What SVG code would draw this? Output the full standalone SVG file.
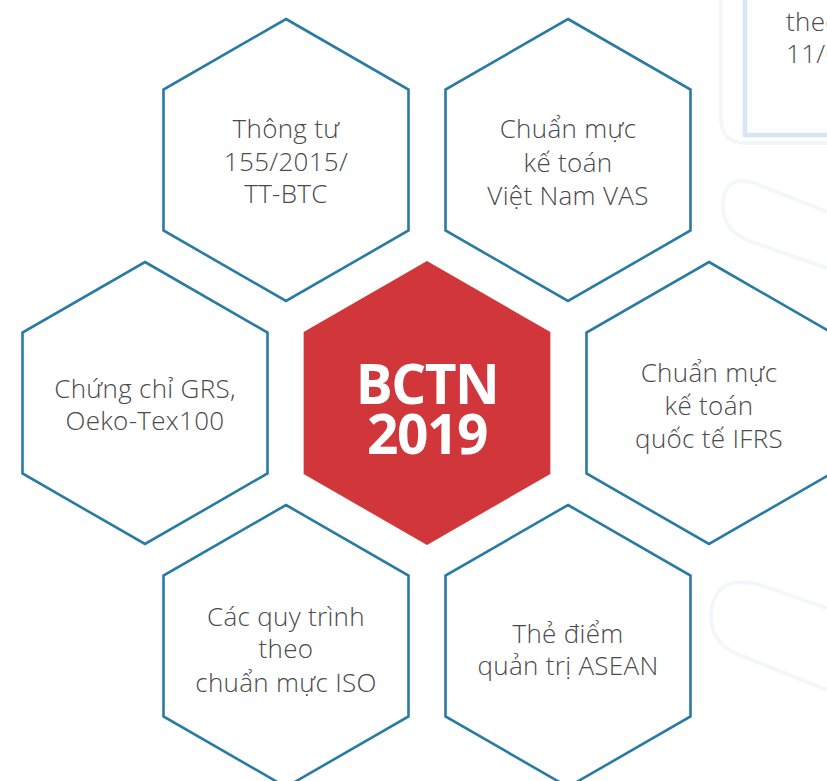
<svg xmlns="http://www.w3.org/2000/svg" xmlns:xlink="http://www.w3.org/1999/xlink" width="827" height="781" viewBox="0 0 827 781">
<style>
.hex{fill:#ffffff;stroke:#2a7ba3;stroke-width:2.6;stroke-linejoin:miter}
.core{fill:#d1363b;stroke:none}
.lbl{font-family:"Open Sans","Noto Sans","Liberation Sans",sans-serif;font-weight:300;font-size:26px;letter-spacing:0.3px;fill:#4a4a4a;text-anchor:middle}
.big{font-family:"Open Sans","Noto Sans","Liberation Sans",sans-serif;font-weight:700;font-size:55px;letter-spacing:-1.5px;fill:#ffffff;text-anchor:middle}
.deco{fill:none;stroke:#f4f7fa;stroke-width:4}
</style>
<defs>
<polygon id="hx" points="0,-141 122.5,-70.5 122.5,70.5 0,141 -122.5,70.5 -122.5,-70.5"/>
</defs>
<rect width="827" height="781" fill="#ffffff"/>
<g id="background">
<path class="deco" d="M721,0 V118 Q721,143 746,143 H827"/>
<path class="deco" d="M827,212 L757,184 Q722,172 723,208 Q724,232 752,242 L827,268"/>
<path class="deco" d="M827,408 L757,385 Q712,375 711,415 Q712,440 742,452 L827,478"/>
<path class="deco" d="M827,608 L757,584 Q712,574 711,618 Q712,645 742,656 L827,690"/>
<rect x="745" y="-10" width="100" height="145" fill="#ffffff" stroke="#d5e7f6" stroke-width="4.5"/>
<text x="786" y="31" class="lbl" style="text-anchor:start">theo</text>
<text x="786" y="63" class="lbl" style="text-anchor:start">11/0</text>
</g>
<g id="connectors"></g>
<g id="node-tt155">
<use xlink:href="#hx" href="#hx" class="hex" transform="translate(286,160)"/>
<text class="lbl"><tspan x="286" y="138">Thông tư</tspan><tspan x="286" y="171">155/2015/</tspan><tspan x="286" y="203">TT-BTC</tspan></text>
</g>
<g id="node-vas">
<use xlink:href="#hx" href="#hx" class="hex" transform="translate(568,160)"/>
<text class="lbl"><tspan x="568" y="138">Chuẩn mực</tspan><tspan x="568" y="172">kế toán</tspan><tspan x="568" y="205">Việt Nam VAS</tspan></text>
</g>
<g id="node-grs">
<use xlink:href="#hx" href="#hx" class="hex" transform="translate(145,403)"/>
<text class="lbl"><tspan x="145" y="398">Chứng chỉ GRS,</tspan><tspan x="145" y="430">Oeko-Tex100</tspan></text>
</g>
<g id="node-center">
<use xlink:href="#hx" href="#hx" class="core" transform="translate(427,403) scale(1.007)"/>
<text class="big"><tspan x="427" y="404">BCTN</tspan><tspan x="427" y="454">2019</tspan></text>
</g>
<g id="node-ifrs">
<use xlink:href="#hx" href="#hx" class="hex" transform="translate(709,403)"/>
<text class="lbl"><tspan x="709" y="382">Chuẩn mực</tspan><tspan x="709" y="415">kế toán</tspan><tspan x="709" y="448">quốc tế IFRS</tspan></text>
</g>
<g id="node-iso">
<use xlink:href="#hx" href="#hx" class="hex" transform="translate(286,646)"/>
<text class="lbl"><tspan x="286" y="626">Các quy trình</tspan><tspan x="286" y="658">theo</tspan><tspan x="286" y="692">chuẩn mực ISO</tspan></text>
</g>
<g id="node-asean">
<use xlink:href="#hx" href="#hx" class="hex" transform="translate(568,646)"/>
<text class="lbl"><tspan x="568" y="643">Thẻ điểm</tspan><tspan x="568" y="675">quản trị ASEAN</tspan></text>
</g>
</svg>
